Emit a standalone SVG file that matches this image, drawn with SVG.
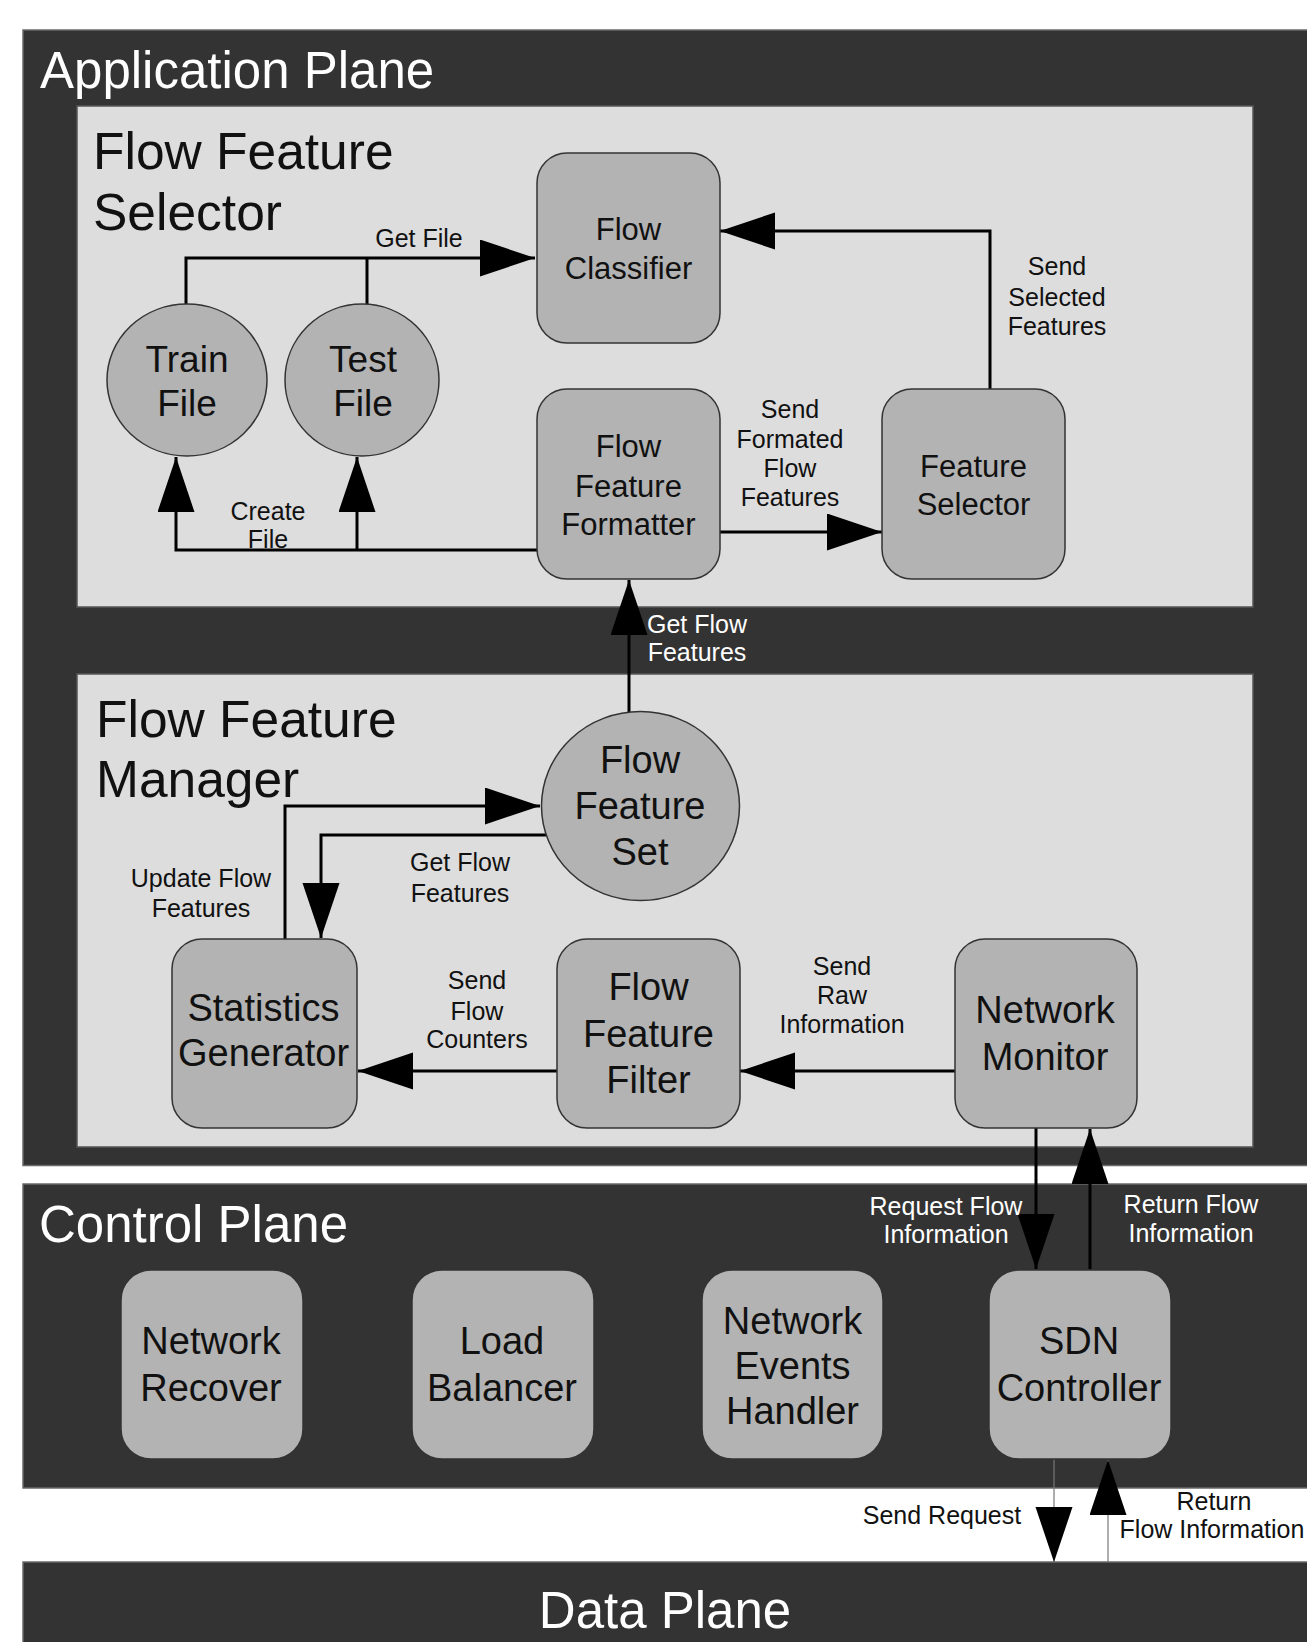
<svg xmlns="http://www.w3.org/2000/svg" width="1307" height="1642" viewBox="0 0 1307 1642">
<style>
  text { font-family: "Liberation Sans", Arial, sans-serif; }
  .plane { fill: #333333; stroke: #6a6a6a; stroke-width: 1.5; }
  .panel { fill: #dddddd; stroke: #555555; stroke-width: 1.5; }
  .node { fill: #b3b3b3; stroke: #333333; stroke-width: 1.5; }
  .ptitle { fill: #ffffff; font-size: 51px; }
  .stitle { fill: #111111; font-size: 51.5px; }
  .n31 { fill: #111111; font-size: 31px; text-anchor: middle; }
  .n37 { fill: #111111; font-size: 37px; text-anchor: middle; }
  .n38 { fill: #111111; font-size: 38px; text-anchor: middle; }
  .lbl { fill: #111111; font-size: 25px; text-anchor: middle; }
  .lblw { fill: #ffffff; font-size: 25px; text-anchor: middle; }
  .conn { fill: none; stroke: #000000; stroke-width: 3; }
  .thin { fill: none; stroke: #777777; stroke-width: 1.2; }
</style>
<defs>
  <marker id="arrow" markerUnits="userSpaceOnUse" markerWidth="56" markerHeight="38" refX="55" refY="18.5" orient="auto" viewBox="0 0 56 38">
    <path d="M0,0 L55,18.5 L0,37 Z" fill="#000000"/>
  </marker>
</defs>

<!-- Planes -->
<g id="application-plane">
  <rect class="plane" x="23" y="30" width="1300" height="1135.5"/>
  <text class="ptitle" x="40" y="88">Application Plane</text>
</g>
<g id="flow-feature-selector">
  <rect class="panel" x="77" y="106" width="1176" height="501"/>
  <text class="stitle" x="93" y="169">Flow Feature</text>
  <text class="stitle" x="93" y="230">Selector</text>
</g>
<g id="flow-feature-manager">
  <rect class="panel" x="77" y="674" width="1176" height="473"/>
  <text class="stitle" x="96" y="737">Flow Feature</text>
  <text class="stitle" x="96" y="797">Manager</text>
</g>
<g id="control-plane">
  <rect class="plane" x="23" y="1184" width="1300" height="304"/>
  <text class="ptitle" x="39" y="1242">Control Plane</text>
</g>
<g id="data-plane">
  <rect class="plane" x="23" y="1562" width="1300" height="100"/>
  <text class="ptitle" x="665" y="1628" text-anchor="middle">Data Plane</text>
</g>

<!-- Connectors -->
<g id="connectors">
  <path class="conn" d="M186,304 V258 H535" marker-end="url(#arrow)"/>
  <path class="conn" d="M367,304 V258"/>
  <path class="conn" d="M537,550 H176 V457" marker-end="url(#arrow)"/>
  <path class="conn" d="M357,550 V457" marker-end="url(#arrow)"/>
  <path class="conn" d="M990,389 V231 H720" marker-end="url(#arrow)"/>
  <path class="conn" d="M720,532 H882" marker-end="url(#arrow)"/>
  <path class="conn" d="M629,712 V580" marker-end="url(#arrow)"/>
  <path class="conn" d="M285,939 V806 H540" marker-end="url(#arrow)"/>
  <path class="conn" d="M546,835 H321 V938" marker-end="url(#arrow)"/>
  <path class="conn" d="M557,1071 H358" marker-end="url(#arrow)"/>
  <path class="conn" d="M955,1071 H740" marker-end="url(#arrow)"/>
  <path class="conn" d="M1036,1128 V1269" marker-end="url(#arrow)"/>
  <path class="conn" d="M1090,1269 V1129" marker-end="url(#arrow)"/>
  <path class="thin" d="M1054,1459 V1562" marker-end="url(#arrow)"/>
  <path class="thin" d="M1108,1562 V1460" marker-end="url(#arrow)"/>

  <text class="lbl" x="419" y="247">Get File</text>
  <text class="lbl" x="268" y="520">Create</text>
  <text class="lbl" x="268" y="548">File</text>
  <text class="lbl" x="1057" y="275">Send</text>
  <text class="lbl" x="1057" y="306">Selected</text>
  <text class="lbl" x="1057" y="335">Features</text>
  <text class="lbl" x="790" y="418">Send</text>
  <text class="lbl" x="790" y="448">Formated</text>
  <text class="lbl" x="790" y="477">Flow</text>
  <text class="lbl" x="790" y="506">Features</text>
  <text class="lblw" x="697" y="633">Get Flow</text>
  <text class="lblw" x="697" y="661">Features</text>
  <text class="lbl" x="201" y="887">Update Flow</text>
  <text class="lbl" x="201" y="917">Features</text>
  <text class="lbl" x="460" y="871">Get Flow</text>
  <text class="lbl" x="460" y="902">Features</text>
  <text class="lbl" x="477" y="989">Send</text>
  <text class="lbl" x="477" y="1020">Flow</text>
  <text class="lbl" x="477" y="1048">Counters</text>
  <text class="lbl" x="842" y="975">Send</text>
  <text class="lbl" x="842" y="1004">Raw</text>
  <text class="lbl" x="842" y="1033">Information</text>
  <text class="lblw" x="946" y="1215">Request Flow</text>
  <text class="lblw" x="946" y="1243">Information</text>
  <text class="lblw" x="1191" y="1213">Return Flow</text>
  <text class="lblw" x="1191" y="1242">Information</text>
  <text class="lbl" x="942" y="1524">Send Request</text>
  <text class="lbl" x="1214" y="1510">Return</text>
  <text class="lbl" x="1212" y="1538">Flow Information</text>
</g>

<!-- Nodes -->
<g id="flow-classifier">
  <rect class="node" x="537" y="153" width="183" height="190" rx="30" ry="30"/>
  <text class="n31" x="628.5" y="240">Flow</text>
  <text class="n31" x="628.5" y="279">Classifier</text>
</g>
<g id="flow-feature-formatter">
  <rect class="node" x="537" y="389" width="183" height="190" rx="30" ry="30"/>
  <text class="n31" x="628.5" y="457">Flow</text>
  <text class="n31" x="628.5" y="497">Feature</text>
  <text class="n31" x="628.5" y="535">Formatter</text>
</g>
<g id="feature-selector">
  <rect class="node" x="882" y="389" width="183" height="190" rx="30" ry="30"/>
  <text class="n31" x="973.5" y="477">Feature</text>
  <text class="n31" x="973.5" y="515">Selector</text>
</g>
<g id="train-file">
  <ellipse class="node" cx="187" cy="380" rx="80" ry="76"/>
  <text class="n37" x="187" y="372">Train</text>
  <text class="n37" x="187" y="416">File</text>
</g>
<g id="test-file">
  <ellipse class="node" cx="362" cy="380" rx="77" ry="76"/>
  <text class="n37" x="363" y="372">Test</text>
  <text class="n37" x="363" y="416">File</text>
</g>
<g id="flow-feature-set">
  <ellipse class="node" cx="640.5" cy="806" rx="99" ry="94.5"/>
  <text class="n38" x="640" y="773">Flow</text>
  <text class="n38" x="640" y="819">Feature</text>
  <text class="n38" x="640" y="865">Set</text>
</g>
<g id="statistics-generator">
  <rect class="node" x="172" y="939" width="185" height="189" rx="30" ry="30"/>
  <text class="n38" x="263.5" y="1021">Statistics</text>
  <text class="n38" x="263.5" y="1066">Generator</text>
</g>
<g id="flow-feature-filter">
  <rect class="node" x="557" y="939" width="183" height="189" rx="30" ry="30"/>
  <text class="n38" x="648.5" y="1000">Flow</text>
  <text class="n38" x="648.5" y="1047">Feature</text>
  <text class="n38" x="648.5" y="1093">Filter</text>
</g>
<g id="network-monitor">
  <rect class="node" x="955" y="939" width="182" height="189" rx="30" ry="30"/>
  <text class="n38" x="1045" y="1023">Network</text>
  <text class="n38" x="1045" y="1070">Monitor</text>
</g>
<g id="network-recover">
  <rect class="node" x="121" y="1270" width="182" height="189" rx="30" ry="30"/>
  <text class="n38" x="211" y="1354">Network</text>
  <text class="n38" x="211" y="1401">Recover</text>
</g>
<g id="load-balancer">
  <rect class="node" x="412" y="1270" width="182" height="189" rx="30" ry="30"/>
  <text class="n38" x="502" y="1354">Load</text>
  <text class="n38" x="502" y="1401">Balancer</text>
</g>
<g id="network-events-handler">
  <rect class="node" x="702" y="1270" width="181" height="189" rx="30" ry="30"/>
  <text class="n38" x="792.5" y="1334">Network</text>
  <text class="n38" x="792.5" y="1379">Events</text>
  <text class="n38" x="792.5" y="1424">Handler</text>
</g>
<g id="sdn-controller">
  <rect class="node" x="989" y="1270" width="182" height="189" rx="30" ry="30"/>
  <text class="n38" x="1079" y="1354">SDN</text>
  <text class="n38" x="1079" y="1401">Controller</text>
</g>
</svg>
